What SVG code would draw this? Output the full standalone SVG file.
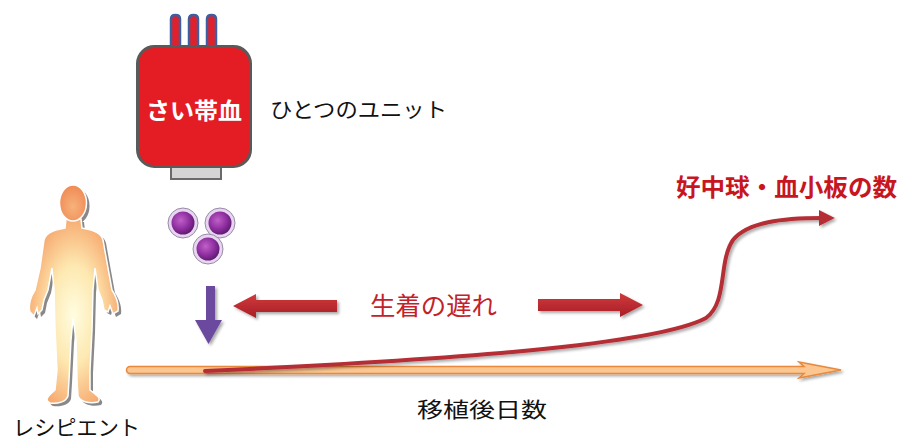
<svg xmlns="http://www.w3.org/2000/svg" width="899" height="441" viewBox="0 0 899 441">
  <defs>
    <style>
      .jp { font-family: "Noto Sans CJK JP", "Noto Sans", sans-serif; }
      .dark { fill: #111111; font-size: 21px; font-weight: 400; }
      .red { fill: #c3222b; font-weight: 400; }
    </style>
    <radialGradient id="skin" cx="0.5" cy="0.52" r="0.6">
      <stop offset="0" stop-color="#fffde0"/>
      <stop offset="0.45" stop-color="#fde8b0"/>
      <stop offset="1" stop-color="#f59a60"/>
    </radialGradient>
    <radialGradient id="head" cx="0.5" cy="0.6" r="0.6">
      <stop offset="0" stop-color="#f7b27a"/>
      <stop offset="1" stop-color="#f08a56"/>
    </radialGradient>
    <radialGradient id="cell" cx="0.4" cy="0.38" r="0.65">
      <stop offset="0" stop-color="#c060c8"/>
      <stop offset="0.6" stop-color="#8f2ea0"/>
      <stop offset="1" stop-color="#5e1a70"/>
    </radialGradient>
    <linearGradient id="redArrow" x1="0" y1="0" x2="0" y2="1">
      <stop offset="0" stop-color="#d03a3c"/>
      <stop offset="1" stop-color="#a81e26"/>
    </linearGradient>
    <filter id="shadow" x="-20%" y="-40%" width="140%" height="180%">
      <feGaussianBlur in="SourceAlpha" stdDeviation="1.5"/>
      <feOffset dx="1.5" dy="2" result="b"/>
      <feComponentTransfer><feFuncA type="linear" slope="0.35"/></feComponentTransfer>
      <feMerge><feMergeNode/><feMergeNode in="SourceGraphic"/></feMerge>
    </filter>
    <marker id="curveHead" viewBox="0 0 10 10" refX="2" refY="5" markerWidth="4" markerHeight="4" orient="auto" markerUnits="strokeWidth">
      <path d="M0,0 L10,5 L0,10 Z" fill="#b52f36"/>
    </marker>
  </defs>

  <!-- cord blood bag -->
  <g id="bag">
    <g fill="#e0202a" stroke="#3d5f9e" stroke-width="2.5">
      <path d="M171,47 V19 Q171,15 175.5,15 Q180,15 180,19 V47"/>
      <path d="M189,47 V19 Q189,15 193.5,15 Q198,15 198,19 V47"/>
      <path d="M207,47 V19 Q207,15 211.5,15 Q216,15 216,19 V47"/>
    </g>
    <rect x="171" y="165" width="50" height="14" fill="#d4d4d4" stroke="#6a6a6a" stroke-width="2"/>
    <rect x="137.5" y="46.5" width="113" height="120" rx="17" fill="#e41c24" stroke="#5a5a5a" stroke-width="3"/>
    <text class="jp" x="194" y="119" text-anchor="middle" font-size="23" font-weight="bold" fill="#ffffff" textLength="96" lengthAdjust="spacingAndGlyphs">さい帯血</text>
  </g>

  <g id="unit-label">
    <text class="jp dark" x="270" y="117" textLength="177" lengthAdjust="spacingAndGlyphs">ひとつのユニット</text>
  </g>

  <!-- stem cells -->
  <g id="cells">
    <g fill="#e6d6ef" stroke="#9a8aa8" stroke-width="1">
      <circle cx="183" cy="223" r="15"/>
      <circle cx="220" cy="223" r="15"/>
      <circle cx="208" cy="249" r="15"/>
    </g>
    <g fill="url(#cell)">
      <circle cx="183" cy="223" r="11.5"/>
      <circle cx="220" cy="223" r="11.5"/>
      <circle cx="208" cy="249" r="11.5"/>
    </g>
  </g>

  <!-- recipient -->
  <g id="recipient">
    <g transform="translate(3,3)" fill="#6b6b6b" opacity="0.8">
      <ellipse cx="73" cy="203" rx="13.5" ry="18"/>
      <path d="M66,219 L65,228 C55,230 46,232 44,240 L40,268 L35,290 C31,296 28,305 30,312 L34,316 L37,308 L38,314 L42,310 L44,300 L48,290 L52,268 L54,290 L55,330 L57,370 L55,390 C48,396 44,400 50,403 C58,404 66,402 68,396 L69,380 L71,340 L73,318 L76,340 L77,380 L78,396 C80,402 90,404 98,402 C102,398 95,394 90,390 L90,370 L92,330 L93,290 L95,268 L98,290 L102,300 L104,310 L108,312 L110,306 L113,314 L118,311 C119,303 116,296 112,290 L108,268 L103,240 C101,232 92,230 82,228 L81,219 Z"/>
    </g>
    <g stroke="#ffffff" stroke-width="1.5">
      <path fill="url(#skin)" d="M66,219 L65,228 C55,230 46,232 44,240 L40,268 L35,290 C31,296 28,305 30,312 L34,316 L37,308 L38,314 L42,310 L44,300 L48,290 L52,268 L54,290 L55,330 L57,370 L55,390 C48,396 44,400 50,403 C58,404 66,402 68,396 L69,380 L71,340 L73,318 L76,340 L77,380 L78,396 C80,402 90,404 98,402 C102,398 95,394 90,390 L90,370 L92,330 L93,290 L95,268 L98,290 L102,300 L104,310 L108,312 L110,306 L113,314 L118,311 C119,303 116,296 112,290 L108,268 L103,240 C101,232 92,230 82,228 L81,219 Z"/>
      <ellipse cx="73" cy="203" rx="13.5" ry="18" fill="url(#head)"/>
    </g>
    <text class="jp dark" x="13" y="435" font-size="22" textLength="127" lengthAdjust="spacingAndGlyphs">レシピエント</text>
  </g>

  <!-- connectors -->
  <g id="connectors">
    <!-- time axis -->
    <path d="M130,366.5 L804,366.5 L799,362 L841,370 L799,378 L804,373.5 L130,373.5 A3.5,3.5 0 0 1 130,366.5 Z" fill="#fbc690" stroke="#e8893c" stroke-width="1.5" filter="url(#shadow)"/>
    <!-- infusion arrow -->
    <path d="M206,286 H215 V320 H222 L208.5,344 L195,320 H206 Z" fill="#6a489e" filter="url(#shadow)"/>
    <!-- delay arrows -->
    <path d="M233,306 L256,294 V300 H337 V312 H256 V318 Z" fill="url(#redArrow)" filter="url(#shadow)"/>
    <path d="M643,305 L620,293 V299 H538 V311 H620 V317 Z" fill="url(#redArrow)" filter="url(#shadow)"/>
    <!-- neutrophil / platelet count curve -->
    <path d="M205,371 C450,360 655,345 706,318 C728,302 718,262 733,240 C748,222 782,218 822,218" fill="none" stroke="#b52f36" stroke-width="4" stroke-linecap="round" marker-end="url(#curveHead)" filter="url(#shadow)"/>
  </g>

  <g id="delay-label">
    <text class="jp red" x="370" y="315" font-size="25" textLength="127" lengthAdjust="spacingAndGlyphs">生着の遅れ</text>
  </g>
  <g id="count-label">
    <text class="jp" x="676" y="196" font-size="24" font-weight="bold" fill="#c8161f" textLength="221" lengthAdjust="spacingAndGlyphs">好中球・血小板の数</text>
  </g>
  <g id="axis-label">
    <text class="jp dark" x="417" y="417" font-size="21" textLength="130" lengthAdjust="spacingAndGlyphs">移植後日数</text>
  </g>
</svg>
